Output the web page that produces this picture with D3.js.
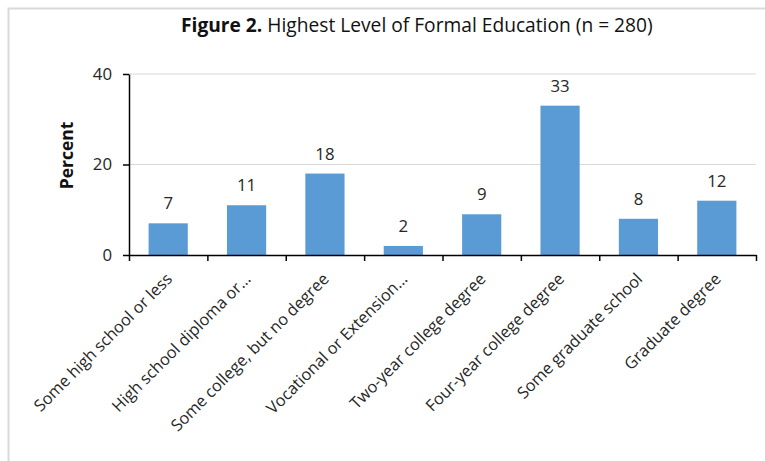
<!DOCTYPE html>
<html>
<head>
<meta charset="utf-8">
<script src="https://cdn.jsdelivr.net/npm/d3@7"></script>
<style>
  html, body { margin: 0; padding: 0; background: #fff; }
  svg { display: block; font-family: "Open Sans", "Noto Sans", sans-serif; }
</style>
</head>
<body>
<svg id="chart" width="765" height="461"></svg>
<script>
// Education level categories and their share of respondents (%)
const categories = [
  "Some high school or less",
  "High school diploma or\u2026",
  "Some college, but no degree",
  "Vocational or Extension\u2026",
  "Two-year college degree",
  "Four-year college degree",
  "Some graduate school",
  "Graduate degree"
];
const percents = [7, 11, 18, 2, 9, 33, 8, 12];
const yTicks = [0, 20, 40];

const W = 765, H = 461;
const margin = { top: 74, right: 9, bottom: 206, left: 129 };
const innerW = W - margin.left - margin.right;
const innerH = H - margin.top - margin.bottom;

const svg = d3.select("#chart");

// Outer frame
svg.append("rect")
  .attr("x", 8.5).attr("y", 8.5)
  .attr("width", W + 10).attr("height", H + 10)
  .attr("fill", "none").attr("stroke", "#d9d9d9").attr("stroke-width", 2);

// Title
const title = svg.append("text")
  .attr("x", 181).attr("y", 32)
  .attr("font-size", 19.2).attr("fill", "#111");
title.append("tspan").attr("font-weight", "bold").text("Figure 2.");
title.append("tspan").text(" Highest Level of Formal Education (n = 280)");

const g = svg.append("g").attr("transform", `translate(${margin.left},${margin.top})`);

const x = d3.scaleBand().domain(categories).range([0, innerW]).padding(0);
const y = d3.scaleLinear().domain([0, 40]).range([innerH, 0]);

// Horizontal gridlines
g.append("g")
  .selectAll("line")
  .data(yTicks.filter(t => t > 0))
  .join("line")
  .attr("x1", 0).attr("x2", innerW)
  .attr("y1", d => y(d)).attr("y2", d => y(d))
  .attr("stroke", "#d9d9d9").attr("stroke-width", 1);

// Bars: half the band width, centred in each band
const bw = x.bandwidth() * 0.5;
g.append("g")
  .selectAll("rect")
  .data(percents)
  .join("rect")
  .attr("x", (d, i) => x(categories[i]) + (x.bandwidth() - bw) / 2)
  .attr("y", d => y(d))
  .attr("width", bw)
  .attr("height", d => innerH - y(d))
  .attr("fill", "#5b9bd5");

// Value labels
g.append("g")
  .selectAll("text")
  .data(percents)
  .join("text")
  .attr("x", (d, i) => x(categories[i]) + x.bandwidth() / 2)
  .attr("y", d => y(d) - 14)
  .attr("text-anchor", "middle")
  .attr("font-size", 16.8)
  .attr("fill", "#262626")
  .text(d => d3.format("d")(d));

// Y axis
const yAxis = g.append("g")
  .call(d3.axisLeft(y).tickValues(yTicks).tickSize(6).tickSizeOuter(0).tickPadding(11));
yAxis.select(".domain").attr("stroke", "#000").attr("stroke-width", 1.5);
yAxis.selectAll(".tick line").attr("stroke", "#000").attr("stroke-width", 1.5);
yAxis.selectAll(".tick text")
  .attr("font-size", 16.8).attr("fill", "#262626")
  .attr("font-family", "'Open Sans', sans-serif");

// X axis: ticks sit on category boundaries
const xEdges = d3.scaleLinear().domain([0, categories.length]).range([0, innerW]);
const xAxis = g.append("g")
  .attr("transform", `translate(0,${innerH})`)
  .call(d3.axisBottom(xEdges).tickValues(d3.range(categories.length + 1))
    .tickSize(6).tickSizeOuter(0).tickFormat(""));
xAxis.select(".domain").attr("stroke", "#000").attr("stroke-width", 1.5);
xAxis.selectAll(".tick line").attr("stroke", "#000").attr("stroke-width", 1.5);

// Rotated category labels
g.append("g")
  .selectAll("text")
  .data(categories)
  .join("text")
  .attr("transform", d => `translate(${x(d) + x.bandwidth() / 2 + 1},${innerH + 21}) rotate(-45)`)
  .attr("text-anchor", "end")
  .attr("dy", "0.35em")
  .attr("font-size", 16.3)
  .attr("fill", "#262626")
  .text(d => d);

// Y axis title
svg.append("text")
  .attr("transform", "translate(73,155.5) rotate(-90)")
  .attr("text-anchor", "middle")
  .attr("font-size", 17.5)
  .attr("font-weight", "bold")
  .attr("fill", "#111")
  .text("Percent");
</script>
</body>
</html>
